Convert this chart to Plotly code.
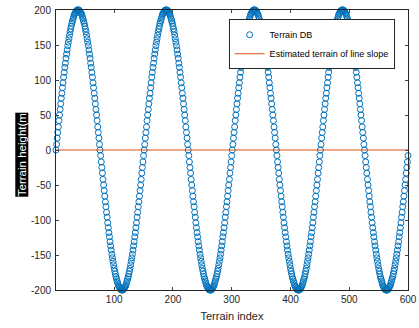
import plotly.graph_objects as go

# Terrain index (x) and terrain heights (4 identical periods)
terrain_index = list(range(1, 601))
terrain_db = [
    0, 8, 17, 25, 33, 42, 50, 58, 66, 74, 81, 89, 96, 104, 111, 118, 124, 131, 137, 143, 149, 154, 159, 164, 169,
    173, 177, 181, 184, 187, 190, 193, 195, 196, 198, 199, 200, 200, 200, 200, 199, 198, 196, 195, 193, 190, 187, 184,
    181, 177, 173, 169, 164, 159, 154, 149, 143, 137, 131, 124, 118, 111, 104, 96, 89, 81, 74, 66, 58, 50, 42, 33, 25, 17, 8,
    0, -8, -17, -25, -33, -42, -50, -58, -66, -74, -81, -89, -96, -104, -111, -118, -124, -131, -137, -143, -149, -154, -159, -164, -169,
    -173, -177, -181, -184, -187, -190, -193, -195, -196, -198, -199, -200, -200, -200, -200, -199, -198, -196, -195, -193, -190, -187, -184,
    -181, -177, -173, -169, -164, -159, -154, -149, -143, -137, -131, -124, -118, -111, -104, -96, -89, -81, -74, -66, -58, -50, -42, -33, -25, -17, -8,
    0, 8, 17, 25, 33, 42, 50, 58, 66, 74, 81, 89, 96, 104, 111, 118, 124, 131, 137, 143, 149, 154, 159, 164, 169,
    173, 177, 181, 184, 187, 190, 193, 195, 196, 198, 199, 200, 200, 200, 200, 199, 198, 196, 195, 193, 190, 187, 184,
    181, 177, 173, 169, 164, 159, 154, 149, 143, 137, 131, 124, 118, 111, 104, 96, 89, 81, 74, 66, 58, 50, 42, 33, 25, 17, 8,
    0, -8, -17, -25, -33, -42, -50, -58, -66, -74, -81, -89, -96, -104, -111, -118, -124, -131, -137, -143, -149, -154, -159, -164, -169,
    -173, -177, -181, -184, -187, -190, -193, -195, -196, -198, -199, -200, -200, -200, -200, -199, -198, -196, -195, -193, -190, -187, -184,
    -181, -177, -173, -169, -164, -159, -154, -149, -143, -137, -131, -124, -118, -111, -104, -96, -89, -81, -74, -66, -58, -50, -42, -33, -25, -17, -8,
    0, 8, 17, 25, 33, 42, 50, 58, 66, 74, 81, 89, 96, 104, 111, 118, 124, 131, 137, 143, 149, 154, 159, 164, 169,
    173, 177, 181, 184, 187, 190, 193, 195, 196, 198, 199, 200, 200, 200, 200, 199, 198, 196, 195, 193, 190, 187, 184,
    181, 177, 173, 169, 164, 159, 154, 149, 143, 137, 131, 124, 118, 111, 104, 96, 89, 81, 74, 66, 58, 50, 42, 33, 25, 17, 8,
    0, -8, -17, -25, -33, -42, -50, -58, -66, -74, -81, -89, -96, -104, -111, -118, -124, -131, -137, -143, -149, -154, -159, -164, -169,
    -173, -177, -181, -184, -187, -190, -193, -195, -196, -198, -199, -200, -200, -200, -200, -199, -198, -196, -195, -193, -190, -187, -184,
    -181, -177, -173, -169, -164, -159, -154, -149, -143, -137, -131, -124, -118, -111, -104, -96, -89, -81, -74, -66, -58, -50, -42, -33, -25, -17, -8,
    0, 8, 17, 25, 33, 42, 50, 58, 66, 74, 81, 89, 96, 104, 111, 118, 124, 131, 137, 143, 149, 154, 159, 164, 169,
    173, 177, 181, 184, 187, 190, 193, 195, 196, 198, 199, 200, 200, 200, 200, 199, 198, 196, 195, 193, 190, 187, 184,
    181, 177, 173, 169, 164, 159, 154, 149, 143, 137, 131, 124, 118, 111, 104, 96, 89, 81, 74, 66, 58, 50, 42, 33, 25, 17, 8,
    0, -8, -17, -25, -33, -42, -50, -58, -66, -74, -81, -89, -96, -104, -111, -118, -124, -131, -137, -143, -149, -154, -159, -164, -169,
    -173, -177, -181, -184, -187, -190, -193, -195, -196, -198, -199, -200, -200, -200, -200, -199, -198, -196, -195, -193, -190, -187, -184,
    -181, -177, -173, -169, -164, -159, -154, -149, -143, -137, -131, -124, -118, -111, -104, -96, -89, -81, -74, -66, -58, -50, -42, -33, -25, -17, -8,
]
estimated_index = [1, 600]
estimated_height = [0, 0]

x_ticks = [100, 200, 300, 400, 500, 600]
y_ticks = [-200, -150, -100, -50, 0, 50, 100, 150, 200]
y_tick_labels = ["-200", "-150", "-100", "-50", "0", "50", "100", "150", "200"]

axis_color = "#262626"
font_family = "Liberation Sans, Arial, sans-serif"

fig = go.Figure()
fig.add_trace(go.Scatter(
    x=terrain_index, y=terrain_db, mode="markers", name="Terrain DB",
    marker=dict(symbol="circle-open", size=6, color="#0072BD", line=dict(width=1, color="#0072BD")),
    cliponaxis=False,
))
fig.add_trace(go.Scatter(
    x=estimated_index, y=estimated_height, mode="lines", name="Estimated terrain of line slope",
    line=dict(color="#D95319", width=1),
))

fig.update_layout(
    width=419, height=328,
    margin=dict(l=56, r=11, t=10, b=38, autoexpand=False),
    paper_bgcolor="white", plot_bgcolor="white",
    font=dict(family=font_family, size=10, color=axis_color),
    showlegend=True,
    legend=dict(
        x=0.962, y=0.967, xanchor="right", yanchor="top",
        bgcolor="white", bordercolor="#262626", borderwidth=1,
        font=dict(size=9, color="black"),
        tracegroupgap=0, itemwidth=30,
    ),
    xaxis=dict(
        range=[1, 600], tickvals=x_ticks, ticks="inside", ticklen=3,
        showline=True, linecolor=axis_color, linewidth=1, mirror="ticks",
        showgrid=False, zeroline=False, automargin=False,
        tickfont=dict(size=10, color=axis_color),
        title=dict(text="Terrain index", font=dict(size=11, color=axis_color), standoff=8),
    ),
    yaxis=dict(
        range=[-200, 200], tickvals=y_ticks, ticktext=y_tick_labels, ticks="inside", ticklen=3,
        showline=True, linecolor=axis_color, linewidth=1, mirror="ticks",
        showgrid=False, zeroline=False, automargin=False, ticklabelstandoff=2,
        tickfont=dict(size=10, color=axis_color),
    ),
    annotations=[dict(
        text="Terrain height(m", textangle=-90,
        xref="paper", yref="paper", x=-0.0966, y=0.485, xanchor="center", yanchor="middle",
        showarrow=False, bgcolor="black", borderpad=0,
        font=dict(size=11.5, color="white", family=font_family),
    )],
)

# Remove the browser's default 8px body margin so the figure fills the window exactly.
fig.write_html(
    "out.html",
    config={"displayModeBar": False},
    post_script="document.body.style.margin='0';document.body.style.overflow='hidden';",
)
